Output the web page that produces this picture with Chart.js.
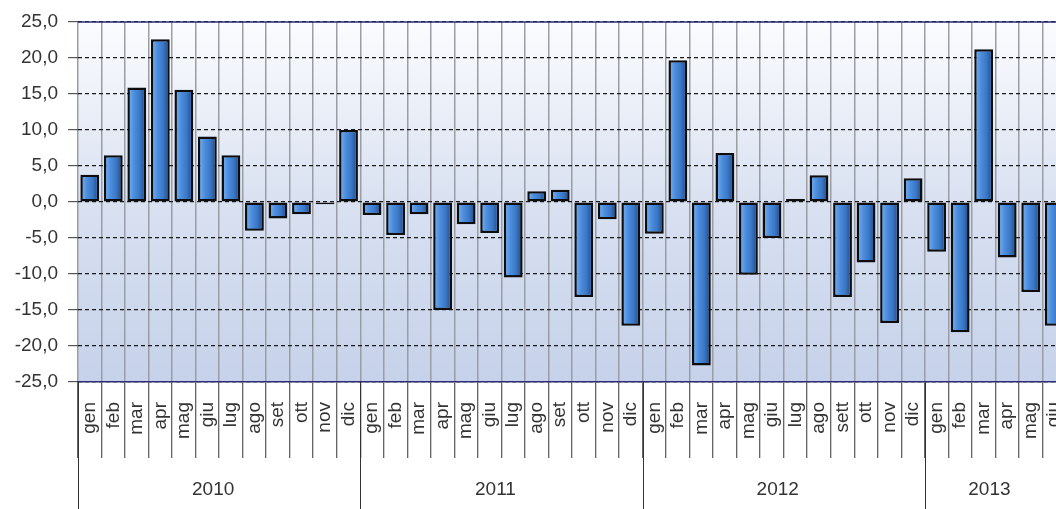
<!DOCTYPE html>
<html>
<head>
<meta charset="utf-8">
<script src="https://cdn.jsdelivr.net/npm/chart.js@4"></script>
<style>
  html, body { margin: 0; padding: 0; background: #fff; overflow: hidden; }
  #wrap { width: 1066px; height: 509px; }
</style>
</head>
<body>
<div id="wrap"><canvas id="chart" width="1066" height="509"></canvas></div>
<script>
// months per year (2012 uses "sett")
const months2010 = ["gen", "feb", "mar", "apr", "mag", "giu", "lug", "ago", "set", "ott", "nov", "dic"];
const months2011 = ["gen", "feb", "mar", "apr", "mag", "giu", "lug", "ago", "set", "ott", "nov", "dic"];
const months2012 = ["gen", "feb", "mar", "apr", "mag", "giu", "lug", "ago", "sett", "ott", "nov", "dic"];
const months2013 = ["gen", "feb", "mar", "apr", "mag", "giu"];
const years = ["2010", "2011", "2012", "2013"];

const values2010 = [3.8, 6.5, 15.9, 22.6, 15.6, 9.1, 6.5, -4.0, -2.3, -1.7, -0.3, 10.0];
const values2011 = [-1.8, -4.6, -1.7, -15.0, -3.1, -4.3, -10.5, 1.5, 1.7, -13.2, -2.4, -17.2];
const values2012 = [-4.4, 19.7, -22.7, 6.8, -10.1, -5.0, 0.4, 3.7, -13.2, -8.4, -16.8, 3.3];
const values2013 = [-6.9, -18.1, 21.2, -7.7, -12.5, -17.2];

const yTicks = [-25, -20, -15, -10, -5, 0, 5, 10, 15, 20, 25];

const monthGroups = [months2010, months2011, months2012, months2013];
const labels = monthGroups.flat();
const values = [values2010, values2011, values2012, values2013].flat();

function fmt(v) {
    return v.toFixed(1).replace(".", ",");
}

const decorPlugin = {
    id: "decor",
    beforeDraw(chart) {
        const { ctx, chartArea: a } = chart;
        const g = ctx.createLinearGradient(0, a.top, 0, a.bottom);
        g.addColorStop(0, "#fbfcfe");
        g.addColorStop(0.5, "#d9e1f1");
        g.addColorStop(1, "#c6d2ea");
        ctx.save();
        ctx.fillStyle = g;
        ctx.fillRect(a.left, a.top, a.right - a.left, a.bottom - a.top);
        ctx.restore();
    },
    afterDatasetsDraw(chart) {
        // bevel shading inside each bar
        const { ctx } = chart;
        const meta = chart.getDatasetMeta(0);
        ctx.save();
        meta.data.forEach((bar) => {
            const p = bar.getProps(["x", "y", "base", "width"], true);
            const l = p.x - p.width / 2 + 2.5, r = p.x + p.width / 2 - 2.5;
            const t = Math.min(p.y, p.base) + 2.5, b = Math.max(p.y, p.base) - 2.5;
            if (b - t < 1) return;
            const g = ctx.createLinearGradient(l, 0, r, 0);
            g.addColorStop(0, "#6aa6ea");
            g.addColorStop(0.3, "#4c8ddd");
            g.addColorStop(0.7, "#3b78c6");
            g.addColorStop(1, "#28589a");
            ctx.fillStyle = g;
            ctx.fillRect(l, t, r - l, b - t);
        });
        ctx.restore();
    },
    afterDraw(chart) {
        const { ctx, chartArea: a } = chart;
        const x = chart.scales.x;
        ctx.save();
        // top border of plot
        ctx.strokeStyle = "#2b2b7a";
        ctx.lineWidth = 1.5;
        ctx.beginPath();
        ctx.moveTo(a.left, a.top);
        ctx.lineTo(a.right, a.top);
        ctx.stroke();
        // year separators and labels
        ctx.strokeStyle = "#333";
        ctx.lineWidth = 1;
        ctx.fillStyle = "#333";
        ctx.font = "19px 'Liberation Sans', Arial, sans-serif";
        ctx.textAlign = "center";
        ctx.textBaseline = "middle";
        let start = 0;
        monthGroups.forEach((grp, i) => {
            const end = start + grp.length - 1;
            const half = (x.getPixelForValue(1) - x.getPixelForValue(0)) / 2;
            const x0 = x.getPixelForValue(start) - half;
            const x1 = x.getPixelForValue(end) + half;
            ctx.beginPath();
            ctx.moveTo(Math.round(x0) + 0.5, a.bottom);
            ctx.lineTo(Math.round(x0) + 0.5, chart.height);
            ctx.stroke();
            ctx.fillText(years[i], (x0 + x1) / 2 - 6, 490);
            start = end + 1;
        });
        ctx.restore();
    }
};

new Chart(document.getElementById("chart"), {
    type: "bar",
    data: {
        labels: labels,
        datasets: [{
            data: values,
            backgroundColor: "#3f80d0",
            borderColor: "#0d0d0d",
            borderWidth: 2.5,
            borderSkipped: false,
            barPercentage: 0.8,
            categoryPercentage: 1.0,
        }],
    },
    options: {
        responsive: false,
        animation: false,
        layout: { padding: { top: 22, right: 0, left: 0, bottom: 0 } },
        plugins: {
            legend: { display: false },
            tooltip: { enabled: false },
        },
        scales: {
            x: {
                offset: true,
                grid: {
                    offset: true,
                    color: "#9a9da4",
                    lineWidth: 1.5,
                    tickColor: "#333",
                    tickLength: 76,
                    tickWidth: 1,
                },
                border: { display: true, color: "#2b2b7a", width: 1.5 },
                ticks: {
                    autoSkip: false,
                    minRotation: 90,
                    maxRotation: 90,
                    padding: -56,
                    color: "#333",
                    font: { family: "'Liberation Sans', Arial, sans-serif", size: 19 },
                },
                afterFit(scale) { scale.height = 127; },
            },
            y: {
                min: -25,
                max: 25,
                afterBuildTicks(scale) { scale.ticks = yTicks.map((v) => ({ value: v })); },
                grid: {
                    color: "#1a1a1a",
                    lineWidth: 1.2,
                    tickColor: "#555",
                    tickLength: 10,
                },
                border: { display: false, dash: [4, 3] },
                ticks: {
                    padding: 10,
                    color: "#333",
                    font: { family: "'Liberation Sans', Arial, sans-serif", size: 19 },
                    callback: (v) => fmt(v),
                },
                afterFit(scale) { scale.width = 78; },
            },
        },
    },
    plugins: [decorPlugin],
});
</script>
</body>
</html>
